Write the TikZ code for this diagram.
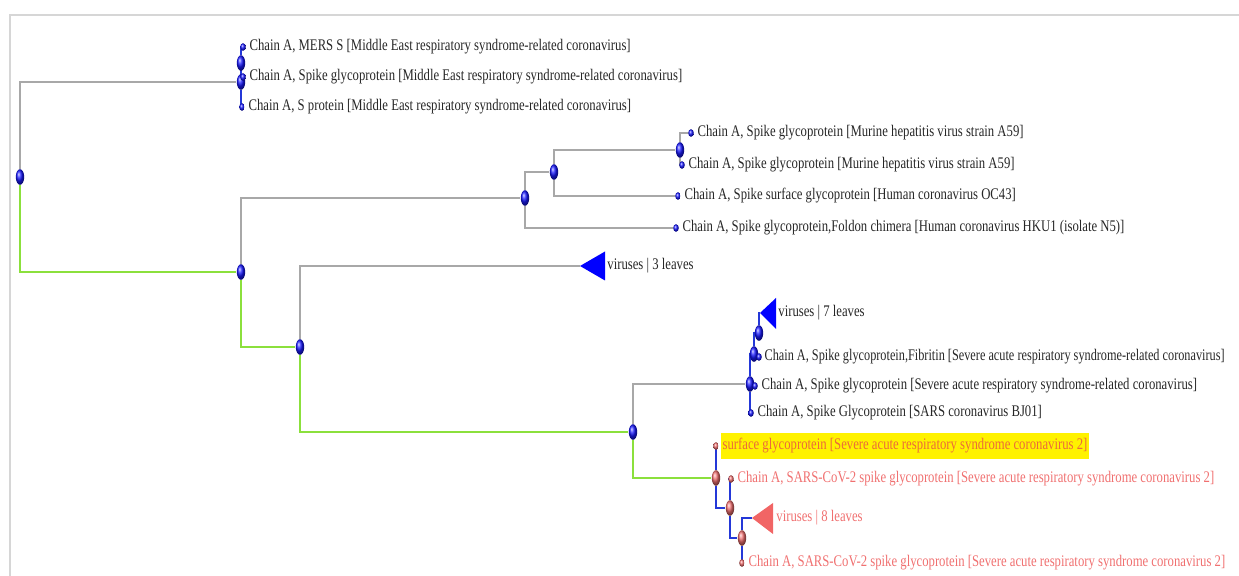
\documentclass[tikz,border=0pt]{standalone}
\usepackage{fontspec}
\setmainfont{Liberation Serif}[FakeStretch=0.785]
\usetikzlibrary{positioning, shapes.geometric, backgrounds}
\definecolor{branchgray}{HTML}{A8A8A8}
\definecolor{branchgreen}{HTML}{8BE03C}
\definecolor{branchblue}{HTML}{2438D8}
\definecolor{covred}{HTML}{F07070}
\definecolor{covorange}{HTML}{EC6A3A}
\definecolor{framegray}{HTML}{D6D6D6}
\definecolor{marked}{HTML}{FFF200}

\begin{document}
\begin{tikzpicture}[x=0.5pt, y=-0.5pt,
    inner/.style={ellipse, inner sep=0, minimum width=4.2pt, minimum height=7.8pt, shading=ball, ball color=blue!90!white},
    leaf/.style={ellipse, inner sep=0, minimum width=2.8pt, minimum height=3.8pt, shading=ball, ball color=blue!90!white},
    redinner/.style={inner, ball color=covred},
    redleaf/.style={leaf, ball color=covred},
    grayedge/.style={draw=branchgray, line width=1pt},
    greenedge/.style={draw=branchgreen, line width=1pt},
    blueedge/.style={draw=branchblue, line width=0.7pt},
    tag/.style={inner sep=0, font=\fontsize{8.1}{9}\selectfont, text=black!85},
    redtag/.style={tag, text=covred}]
    \useasboundingbox (0,0) rectangle (1239,576);
    \draw[framegray, line width=1.4pt] (10,576) -- (10,15) -- (1239,15);

    \node (R) [inner] at (20,177) {};
    \node (M) [inner] at (241,82) {};
    \node (Ma) [inner] at (241,63) {};
    \node (ms1) [leaf] at (243,47) {};
    \node (ms2) [leaf] at (243,77) {};
    \node (ms3) [leaf] at (242,107) {};
    \node (N1) [inner] at (241,272) {};
    \node (N2) [inner] at (525,198) {};
    \node (N4) [inner] at (554,172) {};
    \node (N5) [inner] at (680,150) {};
    \node (mhv1) [leaf] at (691,133) {};
    \node (mhv2) [leaf] at (682,165) {};
    \node (oc43) [leaf] at (678,196) {};
    \node (hku) [leaf] at (676,228) {};
    \node (N3) [inner] at (300,347) {};
    \coordinate (v3) at (580,266);
    \node (N6) [inner] at (633,432) {};
    \node (S1) [inner] at (750,384) {};
    \node (Sb) [inner] at (754,354) {};
    \node (Sc) [inner] at (759,333) {};
    \coordinate (v7) at (760,313);
    \node (sg) [leaf] at (755,386) {};
    \node (fib) [leaf] at (759,357) {};
    \node (bj01) [leaf] at (751,413) {};
    \node (S2) [redinner] at (716,478) {};
    \node (sgly) [redleaf] at (716,446) {};
    \node (S3) [redinner] at (730,508) {};
    \node (cov1) [redleaf] at (731,479) {};
    \node (S4) [redinner] at (742,538) {};
    \coordinate (v8) at (752,518);
    \node (cov2) [redleaf] at (742,563) {};

    \begin{scope}[on background layer]
        \draw[grayedge] (R) |- (M);
        \draw[blueedge] (M) |- (Ma);
        \draw[blueedge] (Ma) |- (ms1);
        \draw[blueedge] (Ma) |- (ms2);
        \draw[blueedge] (M) |- (ms3);
        \draw[greenedge] (R) |- (N1);
        \draw[grayedge] (N1) |- (N2);
        \draw[grayedge] (N2) |- (N4);
        \draw[grayedge] (N2) |- (hku);
        \draw[grayedge] (N4) |- (N5);
        \draw[grayedge] (N4) |- (oc43);
        \draw[grayedge] (N5) |- (mhv1);
        \draw[grayedge] (N5) |- (mhv2);
        \draw[greenedge] (N1) |- (N3);
        \draw[grayedge] (N3) |- (v3);
        \draw[greenedge] (N3) |- (N6);
        \draw[grayedge] (N6) |- (S1);
        \draw[greenedge] (N6) |- (S2);
        \draw[blueedge] (S1) |- (Sb);
        \draw[blueedge] (S1) |- (bj01);
        \draw[blueedge] (S1) -- (sg);
        \draw[blueedge] (Sb) |- (Sc);
        \draw[blueedge] (Sb) -- (fib);
        \draw[blueedge] (Sc) |- (v7);
        \draw[blueedge] (S2) |- (sgly);
        \draw[blueedge] (S2) |- (S3);
        \draw[blueedge] (S3) |- (cov1);
        \draw[blueedge] (S3) |- (S4);
        \draw[blueedge] (S4) |- (v8);
        \draw[blueedge] (S4) |- (cov2);
    \end{scope}

    \fill[blue] (v3) -- ++(25,-14.5) -- ++(0,29) -- cycle;
    \fill[blue] (v7) -- ++(16,-15) -- ++(0,31) -- cycle;
    \fill[covred!90!red] (v8) -- ++(21,-15) -- ++(0,31) -- cycle;

    \node (ms1-t) [tag, right=1.5pt of ms1] {Chain A, MERS S [Middle East respiratory syndrome-related coronavirus]};
    \node (ms2-t) [tag, right=1.5pt of ms2] {Chain A, Spike glycoprotein [Middle East respiratory syndrome-related coronavirus]};
    \node (ms3-t) [tag, right=1.5pt of ms3] {Chain A, S protein [Middle East respiratory syndrome-related coronavirus]};
    \node (mhv1-t) [tag, right=1.5pt of mhv1] {Chain A, Spike glycoprotein [Murine hepatitis virus strain A59]};
    \node (mhv2-t) [tag, right=1.5pt of mhv2] {Chain A, Spike glycoprotein [Murine hepatitis virus strain A59]};
    \node (oc43-t) [tag, right=1.5pt of oc43] {Chain A, Spike surface glycoprotein [Human coronavirus OC43]};
    \node (hku-t) [tag, right=1.5pt of hku] {Chain A, Spike glycoprotein,Foldon chimera [Human coronavirus HKU1 (isolate N5)]};
    \node (v3-t) [tag, right=13.5pt of v3] {viruses | 3 leaves};
    \node (v7-t) [tag, right=9pt of v7] {viruses | 7 leaves};
    \node (fib-t) [tag, right=1pt of fib] {\scalebox{0.965}[1]{Chain A, Spike glycoprotein,Fibritin [Severe acute respiratory syndrome-related coronavirus]}};
    \node (sg-t) [tag, right=1.5pt of sg] {Chain A, Spike glycoprotein [Severe acute respiratory syndrome-related coronavirus]};
    \node (bj01-t) [tag, right=1.5pt of bj01] {Chain A, Spike Glycoprotein [SARS coronavirus BJ01]};
    \node (sgly-t) [tag, right=0.5pt of sgly, fill=marked, text=covorange, inner xsep=1pt, inner ysep=2.6pt] {surface glycoprotein [Severe acute respiratory syndrome coronavirus 2]};
    \node (cov1-t) [redtag, right=1.5pt of cov1] {Chain A, SARS-CoV-2 spike glycoprotein [Severe acute respiratory syndrome coronavirus 2]};
    \node (v8-t) [redtag, right=12pt of v8] {viruses | 8 leaves};
    \node (cov2-t) [redtag, right=1.5pt of cov2] {Chain A, SARS-CoV-2 spike glycoprotein [Severe acute respiratory syndrome coronavirus 2]};
\end{tikzpicture}
\end{document}
